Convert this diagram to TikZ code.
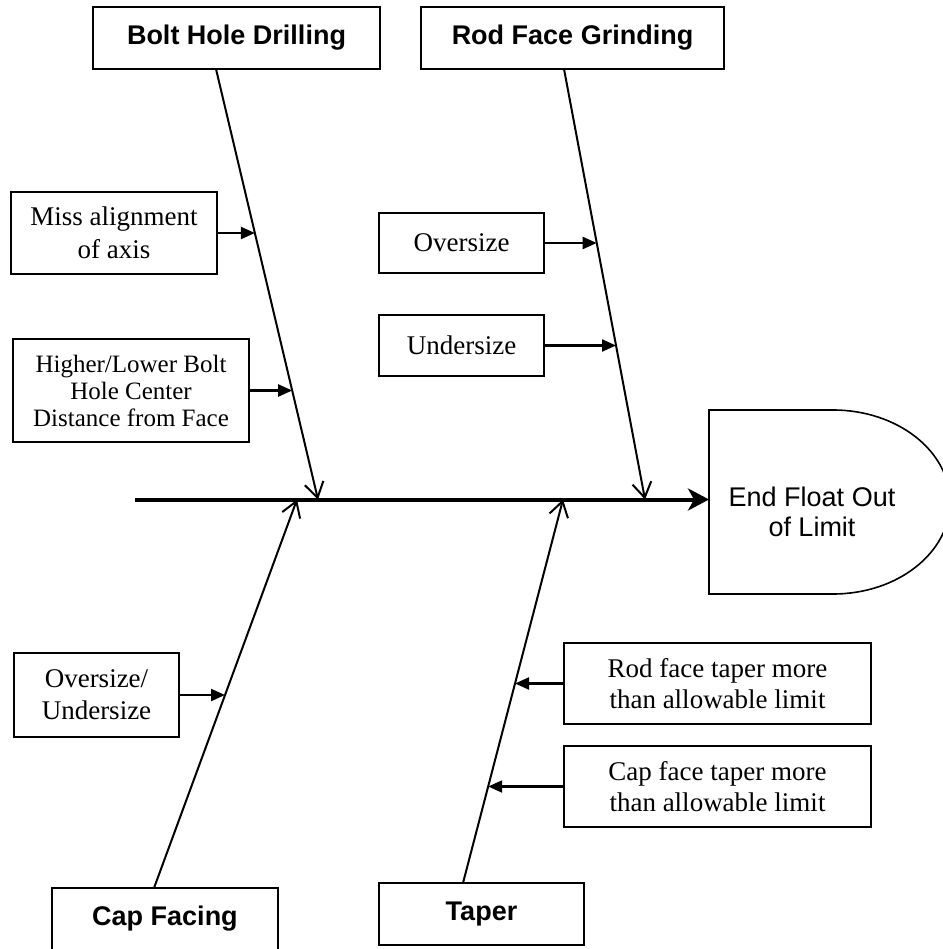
\documentclass[tikz,border=0pt]{standalone}
\usepackage{fontspec}
\setmainfont{Liberation Serif}
\newfontfamily\headfont{Liberation Sans}
\usetikzlibrary{arrows.meta}
\tikzset{
  category/.style={draw, line width=2.4pt, minimum height=62pt, inner sep=0pt, outer sep=0pt,
    font=\headfont\bfseries\fontsize{27}{31}\selectfont},
  causebox/.style={draw, line width=1.6pt, inner sep=0pt, outer sep=0pt, align=center,
    font=\fontsize{27}{31}\selectfont},
  bone/.style={line width=2pt, -{Straight Barb[length=15pt,width=19pt]}},
  spine/.style={line width=4pt, -{Stealth[length=21pt,width=22pt,inset=6pt]}},
  feeder/.style={line width=2.2pt, -{Triangle[length=14pt,width=12pt]}},
}
\begin{document}
\begin{tikzpicture}[x=1pt,y=-1pt]
\useasboundingbox (0,0) rectangle (942,949);

% effect (head of the fish)
\node[minimum width=124pt, minimum height=184pt, inner sep=0pt, outer sep=0pt] (head) at (771,502) {};
\draw[line width=1.6pt] (head.south east) -- (head.south west) -- (head.north west) -- (head.north east)
  arc[start angle=-90, end angle=90, x radius=117, y radius=92] -- cycle;
\node[align=center, font=\headfont\fontsize{27}{30}\selectfont] (effect) at (812,512) {End Float Out\\of Limit};

% spine
\coordinate (tail) at (135,499.5);
\draw[spine] (tail) -- (tail -| head.west);

% category boxes
\node[category, minimum width=287pt] (bolt) at (236.5,38) {Bolt Hole Drilling};
\node[category, minimum width=303pt] (rod) at (572.5,38) {Rod Face Grinding};
\node[category, minimum width=226pt] (cap) at (165,919) {Cap Facing};
\node[category, minimum width=205pt] (taper) at (481.5,914) {Taper};

% joints on the spine
\coordinate (j1) at (318,499.5);
\coordinate (j2) at (645,499.5);
\coordinate (j3) at (297,499.5);
\coordinate (j4) at (563,499.5);

% bones
\draw[bone] ([xshift=-20.5pt]bolt.south) -- (j1);
\draw[bone] ([xshift=-8.5pt]rod.south) -- (j2);
\draw[bone] ([xshift=-11pt]cap.north) -- (j3);
\draw[bone] ([xshift=-18.5pt]taper.north) -- (j4);

% causes
\node[causebox, minimum width=206pt, minimum height=82pt, font=\fontsize{27}{33}\selectfont] (miss) at (114,233) {Miss alignment\\of axis};
\node[causebox, minimum width=236pt, minimum height=103pt, font=\fontsize{25}{27}\selectfont] (higher) at (131,390.5) {Higher/Lower Bolt\\Hole Center\\Distance from Face};
\node[causebox, minimum width=165pt, minimum height=60pt] (over) at (461.5,243) {Oversize};
\node[causebox, minimum width=165pt, minimum height=61pt] (under) at (461.5,345.5) {Undersize};
\node[causebox, minimum width=165pt, minimum height=84pt, font=\fontsize{27}{32}\selectfont] (ovund) at (96.5,695) {Oversize/\\Undersize};
\node[causebox, minimum width=307pt, minimum height=81pt] (rodtaper) at (717.5,683.5) {Rod face taper more\\than allowable limit};
\node[causebox, minimum width=307pt, minimum height=81pt] (captaper) at (717.5,786.5) {Cap face taper more\\than allowable limit};

% points where the causes meet their bones
\coordinate (f1) at (254.9,233);
\coordinate (f2) at (292.2,390.5);
\coordinate (f3) at (596.7,243);
\coordinate (f4) at (616.0,345.5);
\coordinate (f5) at (225.0,695);
\coordinate (f6) at (515.0,683.5);
\coordinate (f7) at (488.2,786.5);

\draw[feeder] (miss.east) -- (f1);
\draw[feeder] (higher.east) -- (f2);
\draw[feeder] (over.east) -- (f3);
\draw[feeder] (under.east) -- (f4);
\draw[feeder] (ovund.east) -- (f5);
\draw[feeder] (rodtaper.west) -- (f6);
\draw[feeder] (captaper.west) -- (f7);
\end{tikzpicture}
\end{document}
